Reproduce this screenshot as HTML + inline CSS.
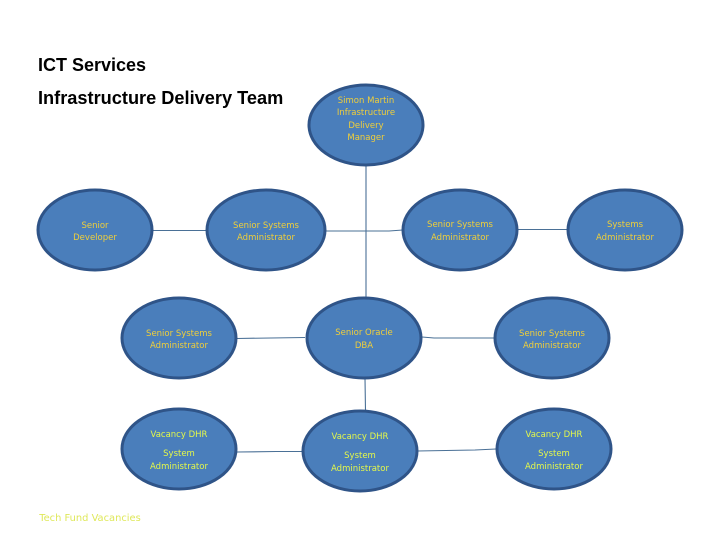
<!DOCTYPE html>
<html><head><meta charset="utf-8"><style>
html,body{margin:0;padding:0;background:#fff}
svg{display:block}
.n{fill:#4a7ebb;stroke:#2f5488;stroke-width:3}
.l{stroke:#4a7096;stroke-width:1.1;fill:none}
text{font-family:"DejaVu Sans","Liberation Sans",sans-serif;font-size:8.5px;text-anchor:middle}
.o{fill:#f0cf3a}
.y{fill:#e4f84a}
.h{font-family:"Liberation Sans",sans-serif;font-weight:bold;font-size:18.2px;fill:#000;text-anchor:start}
</style></head><body>
<svg width="720" height="540" viewBox="0 0 720 540" xmlns="http://www.w3.org/2000/svg">
<path class="l" d="M366 165V338M365 378L365.500 411"/>
<path class="l" d="M153 230.500H206M326 231H389L403 230M517 229.500H567M237 338.500L305 337.500M422 337L434 338H495M237 452L276 451.500H302M417 451L475 450L496 449"/>
<ellipse class="n" cx="366" cy="125" rx="57" ry="40"/>
<ellipse class="n" cx="95" cy="230" rx="57" ry="40"/>
<ellipse class="n" cx="266" cy="230" rx="59" ry="40"/>
<ellipse class="n" cx="460" cy="230" rx="57" ry="40"/>
<ellipse class="n" cx="625" cy="230" rx="57" ry="40"/>
<ellipse class="n" cx="179" cy="338" rx="57" ry="40"/>
<ellipse class="n" cx="364" cy="338" rx="57" ry="40"/>
<ellipse class="n" cx="552" cy="338" rx="57" ry="40"/>
<ellipse class="n" cx="179" cy="449" rx="57" ry="40"/>
<ellipse class="n" cx="360" cy="451" rx="57" ry="40"/>
<ellipse class="n" cx="554" cy="449" rx="57" ry="40"/>
<text class="h" x="38" y="71" style="font-size:18px">ICT Services</text>
<text class="h" x="38" y="104">Infrastructure Delivery Team</text>
<g class="o">
<text x="366" y="103">Simon Martin</text>
<text x="366" y="115">Infrastructure</text>
<text x="366" y="128">Delivery</text>
<text x="366" y="140">Manager</text>
<text x="95" y="228">Senior</text>
<text x="95" y="240">Developer</text>
<text x="266" y="228">Senior Systems</text>
<text x="266" y="240">Administrator</text>
<text x="460" y="227">Senior Systems</text>
<text x="460" y="240">Administrator</text>
<text x="625" y="227">Systems</text>
<text x="625" y="240">Administrator</text>
<text x="179" y="336">Senior Systems</text>
<text x="179" y="348">Administrator</text>
<text x="364" y="335">Senior Oracle</text>
<text x="364" y="348">DBA</text>
<text x="552" y="336">Senior Systems</text>
<text x="552" y="348">Administrator</text>
</g>
<g class="y">
<text x="179" y="437">Vacancy DHR</text>
<text x="179" y="456">System</text>
<text x="179" y="469">Administrator</text>
<text x="360" y="439">Vacancy DHR</text>
<text x="360" y="458">System</text>
<text x="360" y="471">Administrator</text>
<text x="554" y="437">Vacancy DHR</text>
<text x="554" y="456">System</text>
<text x="554" y="469">Administrator</text>
<text x="90" y="521" style="fill:#dfe85a;font-size:9.9px">Tech Fund Vacancies</text>
</g>
</svg>
</body></html>
